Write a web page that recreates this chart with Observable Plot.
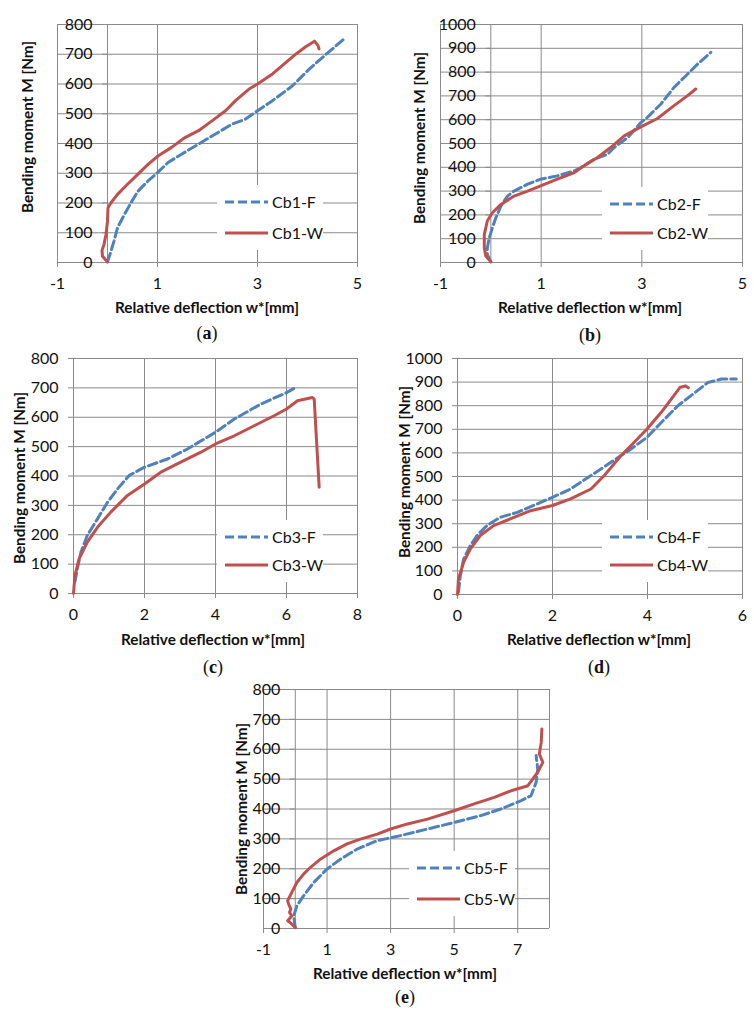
<!DOCTYPE html>
<html><head><meta charset="utf-8">
<script src="https://cdn.jsdelivr.net/npm/d3@7"></script>
<script src="https://cdn.jsdelivr.net/npm/@observablehq/plot@0.6"></script>
<style>
body{margin:0;background:#fff;}
#wrap{position:relative;width:754px;height:1022px;overflow:hidden;font-family:Lato,"Open Sans",sans-serif;color:#111;}
.ytitle,.xtitle{position:absolute;font-weight:bold;font-size:15.3px;white-space:nowrap;line-height:1;}
.ytitle{transform:translate(-50%,-50%) rotate(-90deg);}
.xtitle{transform:translate(-50%,-50%);}
.cap{position:absolute;transform:translate(-50%,-50%);font-family:"Liberation Serif",serif;font-size:18px;line-height:1;white-space:nowrap;}
.leg{position:absolute;background:#fff;}
.legtxt{position:absolute;font-size:16px;line-height:1;transform:translateY(-50%);white-space:nowrap;}
.pl{position:absolute;}
</style>
</head><body><div id="wrap"></div>
<script>
// ---------- data (relative deflection w* [mm], bending moment M [Nm]) ----------
const aF = [[0,2],[0.07,38],[0.13,72],[0.2,117],[0.34,162],[0.47,201],[0.61,240],[0.81,274],[1.0,302],[1.21,336],[1.48,364],[1.82,398],[2.15,431],[2.49,465],[2.76,482],[3.0,510],[3.3,544],[3.7,594],[4.04,651],[4.38,701],[4.77,757]];
const aW = [[0,2],[-0.1,21],[-0.11,40],[-0.07,61],[-0.03,94],[0,139],[0.01,184],[0.07,201],[0.2,229],[0.4,263],[0.61,297],[0.81,330],[1.01,358],[1.28,387],[1.55,420],[1.82,443],[2.09,476],[2.36,510],[2.56,544],[2.83,583],[3.0,600],[3.3,634],[3.57,673],[3.77,701],[3.97,726],[4.14,744],[4.21,729],[4.23,718]];
const bF = [[0,3],[-0.07,34],[-0.07,62],[-0.03,104],[0.03,146],[0.1,188],[0.2,237],[0.33,279],[0.46,300],[0.73,329],[0.99,350],[1.32,364],[1.66,385],[1.79,399],[2.05,434],[2.32,455],[2.45,483],[2.72,525],[2.98,588],[3.11,610],[3.38,666],[3.64,736],[3.91,792],[4.11,834],[4.37,883]];
const bW = [[0,3],[-0.1,27],[-0.13,62],[-0.13,118],[-0.07,174],[0.03,209],[0.2,244],[0.46,279],[0.73,300],[0.99,322],[1.32,350],[1.66,378],[1.85,406],[2.12,441],[2.38,483],[2.65,532],[2.98,570],[3.31,605],[3.64,659],[3.91,701],[4.07,729]];
const cF = [[0.04,40],[0.11,85],[0.21,141],[0.39,198],[0.68,255],[0.96,311],[1.24,356],[1.57,402],[2.0,430],[2.65,458],[3.21,492],[4.0,549],[4.53,594],[5.28,645],[6.0,684],[6.26,701]];
const cW = [[0,0],[0.04,62],[0.16,119],[0.39,175],[0.68,226],[1.05,277],[1.52,334],[2.0,373],[2.46,413],[3.02,447],[3.59,481],[4.0,509],[4.53,537],[5.09,571],[5.65,605],[6.0,628],[6.31,656],[6.73,667],[6.78,662],[6.92,362]];
const dF = [[0.02,10],[0.06,80],[0.13,151],[0.27,207],[0.41,250],[0.62,292],[0.9,327],[1.26,348],[1.68,384],[2.0,412],[2.38,447],[2.81,504],[3.23,560],[3.65,616],[3.99,666],[4.29,729],[4.64,800],[5.0,856],[5.27,898],[5.56,913],[5.87,913]];
const dW = [[0,0],[0.02,66],[0.13,137],[0.27,193],[0.48,250],[0.76,292],[1.11,320],[1.54,355],[2.0,377],[2.38,405],[2.81,447],[3.09,504],[3.44,588],[3.72,645],[3.99,701],[4.29,772],[4.5,828],[4.68,877],[4.8,884],[4.86,876]];
const eF = [[0,3],[-0.05,42],[0.05,76],[0.26,109],[0.58,154],[1.0,199],[1.42,232],[1.95,266],[2.58,294],[3.32,311],[4.16,333],[5.0,355],[5.84,378],[6.47,400],[7.11,428],[7.42,445],[7.58,489],[7.63,534],[7.58,579]];
const eW = [[0,3],[-0.16,20],[-0.24,26],[-0.11,42],[-0.18,54],[-0.14,65],[-0.21,82],[-0.24,93],[-0.11,121],[0.05,154],[0.26,182],[0.47,204],[0.79,232],[1.21,260],[1.63,283],[2.05,299],[2.58,316],[3.0,333],[3.53,350],[4.16,366],[5.0,394],[5.63,417],[6.26,439],[6.79,461],[7.32,478],[7.63,523],[7.79,556],[7.68,584],[7.74,623],[7.76,668]];

const yTicks800 = [0,100,200,300,400,500,600,700,800];
const yTicks1000 = [0,100,200,300,400,500,600,700,800,900,1000];
const xTicksA = [-1,1,3,5];
const xTicksC = [0,2,4,6,8];
const xTicksD = [0,2,4,6];
const xTicksE = [-1,1,3,5,7];
const seriesNames = {a:["Cb1-F","Cb1-W"], b:["Cb2-F","Cb2-W"], c:["Cb3-F","Cb3-W"], d:["Cb4-F","Cb4-W"], e:["Cb5-F","Cb5-W"]};
const yTitle = "Bending moment M [Nm]";
const xTitle = "Relative deflection w*[mm]";

// ---------- layout / style ----------
const BLUE = "#4F81BD", RED = "#C0504D", GRID = "#8a8a8a";
const panels = [
  {id:"a", box:[57,24,357,262], xDomain:[-1,5], xTicks:xTicksA, xGrid:[-1,0,1,3,5], yDomain:[0,800], yTicks:yTicks800, F:aF, W:aW,
   yt:[28,127], xt:[207,308], cap:[207,333], leg:[225,202,233]},
  {id:"b", box:[440,24,742,262], xDomain:[-1,5], xTicks:xTicksA, xGrid:[-1,0,1,3,5], yDomain:[0,1000], yTicks:yTicks1000, F:bF, W:bW,
   yt:[420,138], xt:[590,308], cap:[590,335], leg:[610,204,233]},
  {id:"c", box:[73,358,357,593], xDomain:[0,8], xTicks:xTicksC, xGrid:[0,2,4,6,8], yDomain:[0,800], yTicks:yTicks800, F:cF, W:cW,
   yt:[20,478], xt:[213,640], cap:[213,667], leg:[225,537,565]},
  {id:"d", box:[457,358,742,594], xDomain:[0,6], xTicks:xTicksD, xGrid:[0,2,4,6], yDomain:[0,1000], yTicks:yTicks1000, F:dF, W:dW,
   yt:[405,472], xt:[599,640], cap:[599,667], leg:[610,537,565]},
  {id:"e", box:[263,689,549,928], xDomain:[-1,8], xTicks:xTicksE, xGrid:[-1,0,1,3,5,7,8], yDomain:[0,800], yTicks:yTicks800, F:eF, W:eW,
   yt:[242,809], xt:[405,974], cap:[405,997], leg:[417,868,899]}
];

const wrap = document.getElementById("wrap");
const ML=55, MR=12, MT=12, MB=36;

function el(cls, x, y, html){
  const d = document.createElement("div");
  d.className = cls; d.style.left = x+"px"; d.style.top = y+"px"; d.innerHTML = html;
  wrap.appendChild(d); return d;
}

for (const p of panels) {
  const [L,T,R,B] = p.box;
  const chart = Plot.plot({
    width: R-L+ML+MR, height: B-T+MT+MB,
    marginLeft: ML, marginRight: MR, marginTop: MT, marginBottom: MB,
    x: {domain: p.xDomain, axis: null},
    y: {domain: p.yDomain, axis: null},
    style: {background: "transparent", overflow: "visible", fontFamily: "Lato, 'Open Sans', sans-serif", fontSize: "16px", color: "#111"},
    marks: [
      Plot.ruleY(p.yTicks, {stroke: GRID, strokeWidth: 1}),
      Plot.ruleX(p.xGrid, {stroke: GRID, strokeWidth: 1}),
      Plot.ruleY(p.yTicks, {x1: 0, x2: 0, insetLeft: -5, stroke: GRID}),
      Plot.ruleX(p.xTicks, {y1: p.yDomain[0], y2: p.yDomain[0], insetBottom: -5, stroke: GRID}),
      Plot.text(p.yTicks, {x: 0, y: d => d, text: d => String(d), dx: -15, textAnchor: "end", fill: "#111", fontSize: 16}),
      Plot.text(p.xTicks, {x: d => d, y: p.yDomain[0], text: d => String(d), dy: 21, fill: "#111", fontSize: 16}),
      Plot.line(p.F, {x: d => d[0], y: d => d[1], stroke: BLUE, strokeWidth: 3, strokeDasharray: "9,4"}),
      Plot.line(p.W, {x: d => d[0], y: d => d[1], stroke: RED, strokeWidth: 3})
    ]
  });
  chart.style.maxWidth = "none";
  const holder = document.createElement("div");
  holder.className = "pl";
  holder.style.left = (L-ML)+"px"; holder.style.top = (T-MT)+"px";
  holder.appendChild(chart);
  wrap.appendChild(holder);

  // axis titles & caption
  el("ytitle", p.yt[0], p.yt[1], yTitle);
  el("xtitle", p.xt[0], p.xt[1], xTitle);
  el("cap", p.cap[0], p.cap[1], "(<b>"+p.id+"</b>)");

  // legend
  const [lx, yF, yW] = p.leg;
  const box = el("leg", lx-8, yF-17, "");
  box.style.width = "106px"; box.style.height = (yW-yF+34)+"px";
  const names = seriesNames[p.id];
  const svgNS = "http://www.w3.org/2000/svg";
  const s = document.createElementNS(svgNS, "svg");
  s.setAttribute("width", 106); s.setAttribute("height", yW-yF+34);
  s.style.position = "absolute"; s.style.left = "0px"; s.style.top = "0px";
  [[yF, BLUE, "9,4"], [yW, RED, null]].forEach(([yy, col, dash]) => {
    const ln = document.createElementNS(svgNS, "line");
    ln.setAttribute("x1", 8); ln.setAttribute("x2", 51);
    ln.setAttribute("y1", yy-(yF-17)); ln.setAttribute("y2", yy-(yF-17));
    ln.setAttribute("stroke", col); ln.setAttribute("stroke-width", 3);
    if (dash) ln.setAttribute("stroke-dasharray", dash);
    s.appendChild(ln);
  });
  box.appendChild(s);
  const t1 = document.createElement("div"); t1.className = "legtxt"; t1.style.left = "55px"; t1.style.top = "17px"; t1.textContent = names[0];
  const t2 = document.createElement("div"); t2.className = "legtxt"; t2.style.left = "55px"; t2.style.top = (yW-yF+17)+"px"; t2.textContent = names[1];
  box.appendChild(t1); box.appendChild(t2);
}
</script>
</body></html>
